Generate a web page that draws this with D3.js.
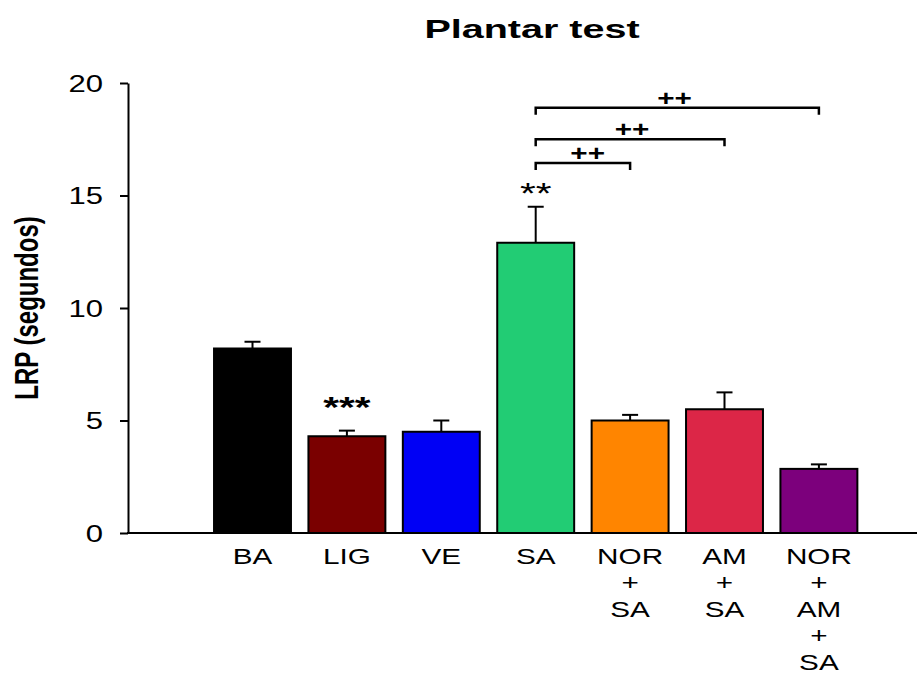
<!DOCTYPE html>
<html>
<head>
<meta charset="utf-8">
<script src="https://cdn.jsdelivr.net/npm/d3@7"></script>
<style>
  body { margin: 0; background: #fff; }
  text { font-family: "Liberation Sans", Arial, sans-serif; }
</style>
</head>
<body>
<div id="chart"></div>
<script>
// datos
const grupos = ['BA', 'LIG', 'VE', 'SA', 'NOR+SA', 'AM+SA', 'NOR+AM+SA'];
const etiquetas = [['BA'], ['LIG'], ['VE'], ['SA'], ['NOR', '+', 'SA'], ['AM', '+', 'SA'], ['NOR', '+', 'AM', '+', 'SA']];
const medias = [8.2, 4.3, 4.5, 12.9, 5.0, 5.5, 2.85];
const errores = [0.3, 0.25, 0.5, 1.6, 0.25, 0.75, 0.2];
const colores = ['#000000', '#7a0000', '#0000f5', '#22cc74', '#ff8500', '#dc2647', '#7c007c'];
const asteriscos = ['', '***', '', '**', '', '', ''];
const nivelAsteriscos = [0, 5.15, 0, 14.65, 0, 0, 0];
const yTicks = [0, 5, 10, 15, 20];

// comparaciones (++): desde SA hasta cada grupo, altura en segundos
const comparaDesde = ['SA', 'SA', 'SA'];
const comparaHasta = ['NOR+SA', 'AM+SA', 'NOR+AM+SA'];
const comparaAltura = [16.45, 17.5, 18.9];
const comparaTexto = ['++', '++', '++'];

const width = 917;
const height = 675;
const estiro = 1.35; // el texto del original esta estirado en horizontal

const svg = d3.select('#chart')
  .append('svg')
  .attr('width', width)
  .attr('height', height);

const x = d3.scaleBand()
  .domain(grupos)
  .range([205.3, 866.1])
  .paddingInner(0.185)
  .paddingOuter(0.0925);

const y = d3.scaleLinear()
  .domain([0, 20])
  .range([533, 83]);

// titulo
svg.append('text')
  .attr('transform', 'translate(532,38) scale(1.52,1)')
  .attr('text-anchor', 'middle')
  .style('font-size', '26px')
  .style('font-weight', 'bold')
  .text('Plantar test');

// eje y
const yAxis = d3.axisLeft(y)
  .tickValues(yTicks)
  .tickSize(8)
  .tickSizeOuter(0);

const gy = svg.append('g')
  .attr('transform', 'translate(128,0)')
  .call(yAxis);
gy.select('.domain').attr('stroke', '#000').attr('stroke-width', 2);
gy.selectAll('.tick line').attr('stroke', '#000').attr('stroke-width', 2);
gy.selectAll('.tick text')
  .attr('x', -25 / estiro)
  .attr('dy', '0.36em')
  .attr('transform', `scale(${estiro},1)`)
  .style('font-size', '23px')
  .attr('fill', '#000')
  .attr('font-family', '"Liberation Sans", Arial, sans-serif');

svg.append('text')
  .attr('transform', `translate(38,308) rotate(-90) scale(1,${estiro})`)
  .attr('text-anchor', 'middle')
  .style('font-size', '24px')
  .style('font-weight', 'bold')
  .text('LRP (segundos)');

// barras
svg.selectAll('.bar')
  .data(grupos)
  .enter()
  .append('rect')
  .attr('class', 'bar')
  .attr('x', (d) => x(d))
  .attr('width', x.bandwidth())
  .attr('y', (d, i) => y(medias[i]))
  .attr('height', (d, i) => y(0) - y(medias[i]))
  .attr('fill', (d, i) => colores[i])
  .attr('stroke', '#000')
  .attr('stroke-width', 2);

// barras de error (solo hacia arriba)
const errG = svg.append('g').attr('stroke', '#000').attr('stroke-width', 2);
grupos.forEach((g, i) => {
  const cx = x(g) + x.bandwidth() / 2;
  errG.append('line')
    .attr('x1', cx).attr('x2', cx)
    .attr('y1', y(medias[i])).attr('y2', y(medias[i] + errores[i]));
  errG.append('line')
    .attr('x1', cx - 8).attr('x2', cx + 8)
    .attr('y1', y(medias[i] + errores[i])).attr('y2', y(medias[i] + errores[i]));
});

// eje x (solo la linea)
svg.append('line')
  .attr('x1', 127).attr('x2', width)
  .attr('y1', y(0)).attr('y2', y(0))
  .attr('stroke', '#000')
  .attr('stroke-width', 2);

// etiquetas del eje x
grupos.forEach((g, i) => {
  const t = svg.append('text')
    .attr('transform', `translate(${x(g) + x.bandwidth() / 2},564) scale(${estiro},1)`)
    .attr('text-anchor', 'middle')
    .style('font-size', '22px');
  etiquetas[i].forEach((linea, j) => {
    t.append('tspan')
      .attr('x', 0)
      .attr('dy', j === 0 ? 0 : 26.5)
      .text(linea);
  });
});

// asteriscos
grupos.forEach((g, i) => {
  if (!asteriscos[i]) return;
  svg.append('text')
    .attr('transform', `translate(${x(g) + x.bandwidth() / 2},${y(nivelAsteriscos[i])}) scale(${estiro},1)`)
    .attr('text-anchor', 'middle')
    .style('font-size', '30px')
    .style('font-weight', asteriscos[i] === '***' ? 'bold' : 'normal')
    .text(asteriscos[i]);
});

// corchetes de comparacion
comparaDesde.forEach((desde, i) => {
  const x1 = x(desde) + x.bandwidth() / 2;
  const x2 = x(comparaHasta[i]) + x.bandwidth() / 2;
  const yy = y(comparaAltura[i]);
  svg.append('path')
    .attr('d', `M${x1},${yy + 7}V${yy}H${x2}V${yy + 7}`)
    .attr('fill', 'none')
    .attr('stroke', '#000')
    .attr('stroke-width', 2.5);
  const cx = x1 + (x2 - x1) * (i === 0 ? 0.55 : (i === 1 ? 0.51 : 0.49));
  svg.append('text')
    .attr('transform', `translate(${cx},${yy - 2}) scale(${estiro},1)`)
    .attr('text-anchor', 'middle')
    .style('font-size', '22px')
    .style('font-weight', 'bold')
    .text(comparaTexto[i]);
});
</script>
</body>
</html>
